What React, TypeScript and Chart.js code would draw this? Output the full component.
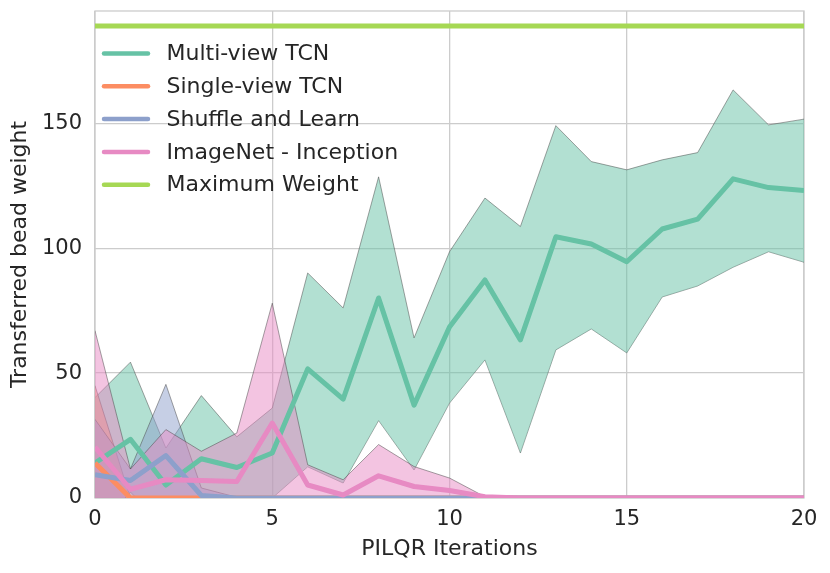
import { useEffect, useRef } from "react"
import { Chart, registerables } from "chart.js"

Chart.register(...registerables)

// PILQR iteration index
const iterations = [0, 1, 2, 3, 4, 5, 6, 7, 8, 9, 10, 11, 12, 13, 14, 15, 16, 17, 18, 19, 20]

// Multi-view TCN (mean, mean + std, mean - std)
const multiMean = [14, 23.5, 5.2, 15.7, 12.2, 18, 51.7, 39.6, 80.1, 37.2, 68.5, 87.3, 63.3, 104.6, 101.7, 94.6, 107.7, 111.7, 127.8, 124.3, 123.1]
const multiUpper = [40.2, 54.4, 20, 41, 24.5, 36, 90.1, 76.1, 128.6, 64.1, 98.6, 120.1, 108.7, 149.1, 134.7, 131.4, 135.4, 138.3, 163.4, 149.4, 151.7]
const multiLower = [-12.2, -7.4, -9.6, -9.6, -0.1, 0, 12.5, 6, 31, 11.2, 38, 55.3, 18, 59.3, 67.7, 58.1, 80.5, 84.9, 92.4, 98.6, 94.4]

// Single-view TCN
const singleMean = [14, 0, 0, 0, 0, 0, 0, 0, 0, 0, 0, 0, 0, 0, 0, 0, 0, 0, 0, 0, 0]
const singleUpper = [45, 0, 0, 0, 0, 0, 0, 0, 0, 0, 0, 0, 0, 0, 0, 0, 0, 0, 0, 0, 0]
const singleLower = [-17, 0, 0, 0, 0, 0, 0, 0, 0, 0, 0, 0, 0, 0, 0, 0, 0, 0, 0, 0, 0]

// Shuffle and Learn
const shuffleMean = [9.3, 7, 17, 1, 0, 0, 0, 0, 0, 0, 0, 0, 0, 0, 0, 0, 0, 0, 0, 0, 0]
const shuffleUpper = [31.5, 11.6, 45.5, 4, 0.3, 0, 0, 0, 0, 0, 0, 0, 0, 0, 0, 0, 0, 0, 0, 0, 0]
const shuffleLower = [-13, 2.4, -11.5, -2, -0.3, 0, 0, 0, 0, 0, 0, 0, 0, 0, 0, 0, 0, 0, 0, 0, 0]

// ImageNet - Inception
const imagenetMean = [20.4, 3.5, 7.3, 7, 6.6, 30, 5.2, 1.2, 8.9, 4.6, 3, 0.5, 0, 0, 0, 0, 0, 0, 0, 0, 0]
const imagenetUpper = [67, 11.6, 27.4, 18.7, 26, 78, 13.3, 7.3, 21.4, 12.6, 8, 0.5, 0, 0, 0, 0, 0, 0, 0, 0, 0]
const imagenetLower = [-26, -4.6, -12.8, -4.7, -12.8, -18, -2.9, -4.9, -3.6, -3.4, -2, 0.5, 0, 0, 0, 0, 0, 0, 0, 0, 0]

// Maximum transferable weight
const maxWeight = [189, 189, 189, 189, 189, 189, 189, 189, 189, 189, 189, 189, 189, 189, 189, 189, 189, 189, 189, 189, 189]

const legendLabels = ["Multi-view TCN", "Single-view TCN", "Shuffle and Learn", "ImageNet - Inception", "Maximum Weight"]
const lineColors = ["#66c2a5", "#fc8d62", "#8da0cb", "#e78ac3", "#a6d854"]
const bandColors = ["rgba(102,194,165,0.5)", "rgba(252,141,98,0.5)", "rgba(141,160,203,0.5)", "rgba(231,138,195,0.5)"]

const yTicks = [0, 50, 100, 150]
const xTicks = [0, 5, 10, 15, 20]

const FONT = "'DejaVu Sans', sans-serif"
const TEXT = "#262626"
const GRID = "#cccccc"
const EDGE = "rgba(70,70,70,0.7)"

const toPoints = (values: number[]) => iterations.map((x, i) => ({ x, y: values[i] }))

const framePlugin = {
  id: "frame",
  beforeDatasetsDraw(chart: Chart) {
    const { ctx, chartArea } = chart
    ctx.save()
    ctx.strokeStyle = GRID
    ctx.lineWidth = 1.3
    ctx.strokeRect(chartArea.left, chartArea.top, chartArea.right - chartArea.left, chartArea.bottom - chartArea.top)
    ctx.restore()
  },
}

const legendPlugin = {
  id: "insideLegend",
  afterDatasetsDraw(chart: Chart) {
    const { ctx, chartArea } = chart
    ctx.save()
    ctx.font = `22px ${FONT}`
    ctx.textBaseline = "middle"
    ctx.textAlign = "left"
    legendLabels.forEach((label, i) => {
      const y = chartArea.top + 42.5 + i * 32.8
      ctx.strokeStyle = lineColors[i]
      ctx.lineWidth = 4.5
      ctx.lineCap = "round"
      ctx.beginPath()
      ctx.moveTo(chartArea.left + 9, y)
      ctx.lineTo(chartArea.left + 53, y)
      ctx.stroke()
      ctx.fillStyle = TEXT
      ctx.fillText(label, chartArea.left + 71.5, y + 1)
    })
    ctx.restore()
  },
}

export default function App() {
  const chartRef = useRef<HTMLCanvasElement>(null)
  const chartInstance = useRef<Chart | null>(null)

  useEffect(() => {
    if (!chartRef.current) return
    if (chartInstance.current) chartInstance.current.destroy()
    const ctx = chartRef.current.getContext("2d")
    if (!ctx) return

    const methods = [
      { mean: multiMean, upper: multiUpper, lower: multiLower },
      { mean: singleMean, upper: singleUpper, lower: singleLower },
      { mean: shuffleMean, upper: shuffleUpper, lower: shuffleLower },
      { mean: imagenetMean, upper: imagenetUpper, lower: imagenetLower },
    ]

    const datasets: any[] = []
    // std bands first (lower edge, then upper edge filled down to it)
    methods.forEach((m, i) => {
      datasets.push({
        label: legendLabels[i] + " lower",
        data: toPoints(m.lower),
        borderColor: EDGE,
        borderWidth: 0.7,
        pointRadius: 0,
        fill: false,
        clip: 0,
      })
      datasets.push({
        label: legendLabels[i] + " upper",
        data: toPoints(m.upper),
        borderColor: EDGE,
        borderWidth: 0.7,
        backgroundColor: bandColors[i],
        pointRadius: 0,
        fill: "-1",
        clip: 0,
      })
    })
    // mean lines on top
    methods.forEach((m, i) => {
      datasets.push({
        label: legendLabels[i],
        data: toPoints(m.mean),
        borderColor: lineColors[i],
        borderWidth: 5,
        borderJoinStyle: "round",
        pointRadius: 0,
        fill: false,
        clip: 0,
      })
    })
    datasets.push({
      label: legendLabels[4],
      data: toPoints(maxWeight),
      borderColor: lineColors[4],
      borderWidth: 5,
      pointRadius: 0,
      fill: false,
      clip: 0,
    })
    // first dataset drawn first (highest order is drawn first in Chart.js)
    datasets.forEach((d, i) => (d.order = datasets.length - i))

    chartInstance.current = new Chart(ctx, {
      type: "line",
      data: { datasets },
      plugins: [framePlugin, legendPlugin],
      options: {
        animation: false,
        responsive: true,
        maintainAspectRatio: false,
        layout: { padding: { top: 11, right: 26, left: 0, bottom: 0 } },
        elements: { line: { tension: 0 } },
        scales: {
          x: {
            type: "linear",
            min: 0,
            max: 20,
            afterFit: (scale: any) => {
              scale.height = 75
              scale.paddingLeft = 0
              scale.paddingRight = 0
            },
            afterBuildTicks: (scale: any) => {
              scale.ticks = xTicks.map((v) => ({ value: v }))
            },
            ticks: {
              font: { family: FONT, size: 21 },
              color: TEXT,
              padding: 9,
              maxRotation: 0,
            },
            grid: { color: GRID, lineWidth: 1.3, drawTicks: false },
            border: { display: false },
            title: {
              display: true,
              text: "PILQR Iterations",
              font: { family: FONT, size: 22 },
              color: TEXT,
              padding: { top: 0, bottom: 11 },
            },
          },
          y: {
            type: "linear",
            min: 0,
            max: 195,
            afterFit: (scale: any) => {
              scale.width = 95
              scale.paddingTop = 0
              scale.paddingBottom = 0
            },
            afterBuildTicks: (scale: any) => {
              scale.ticks = yTicks.map((v) => ({ value: v }))
            },
            ticks: {
              font: { family: FONT, size: 21 },
              color: TEXT,
              padding: 13,
            },
            grid: { color: GRID, lineWidth: 1.3, drawTicks: false },
            border: { display: false },
            title: {
              display: true,
              text: "Transferred bead weight",
              font: { family: FONT, size: 22 },
              color: TEXT,
              padding: { top: 7, bottom: 0 },
            },
          },
        },
        plugins: {
          legend: { display: false },
          tooltip: { enabled: false },
        },
      },
    })

    return () => {
      if (chartInstance.current) {
        chartInstance.current.destroy()
        chartInstance.current = null
      }
    }
  }, [])

  return (
    <div style={{ position: "absolute", left: 0, top: 0, width: 830, height: 573, background: "#fff" }}>
      <canvas ref={chartRef} />
    </div>
  )
}
